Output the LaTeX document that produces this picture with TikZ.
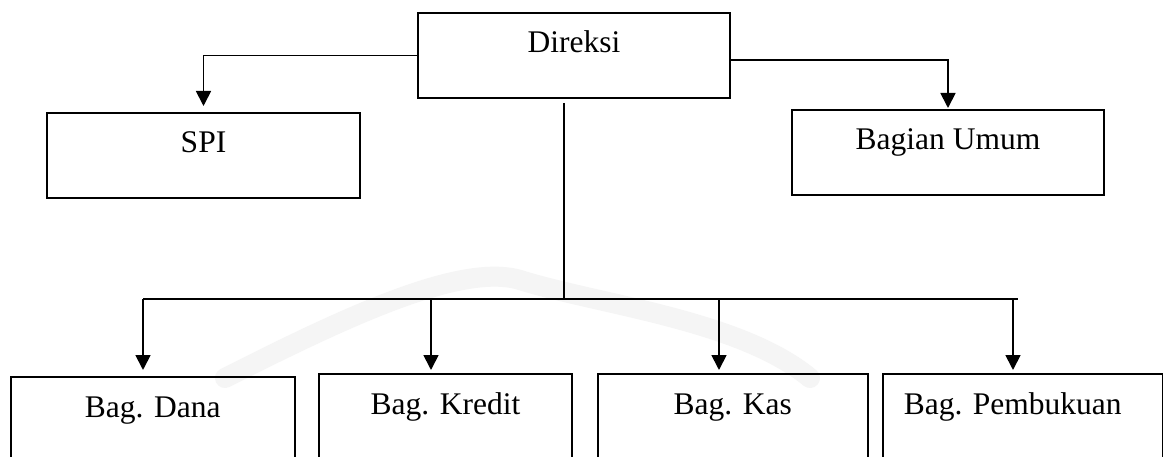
\documentclass[tikz,border=0pt]{standalone}
\usepackage{fontspec}
\setmainfont{Liberation Serif}
\usetikzlibrary{arrows.meta,calc}
\begin{document}
\begin{tikzpicture}[x=1pt,y=-1pt,
  box/.style={draw, line width=2pt, rectangle, inner sep=0pt, anchor=north west},
  lbl/.style={anchor=base, inner sep=0pt, font=\fontsize{31.5}{36}\selectfont},
  link/.style={line width=1.8pt},
  arr/.style={link, -{Triangle[width=15pt,length=15pt]}}]
\clip (0,0) rectangle (1163,457);
\fill[white] (0,0) rectangle (1163,457);
% faint background watermark arc
\draw[black!4, line width=20pt, line cap=round]
  (225,378) .. controls (340,320) and (460,262) .. (520,280)
  .. controls (600,305) and (740,320) .. (810,378);

% boxes
\node[box, minimum width=312pt, minimum height=85pt] (direksi) at (417,12) {};
\node[box, minimum width=313pt, minimum height=85pt] (spi) at (46,112) {};
\node[box, minimum width=312pt, minimum height=85pt] (umum) at (791,109) {};
\node[box, minimum width=283.5pt, minimum height=100pt] (dana) at (10,376) {};
\node[box, minimum width=253pt, minimum height=100pt] (kredit) at (318,373) {};
\node[box, minimum width=270.5pt, minimum height=100pt] (kas) at (596.5,373) {};
\node[box, minimum width=279.5pt, minimum height=100pt] (pemb) at (882,373) {};

% box texts
\node[lbl] (direksi-t) at ($(direksi.north)+(0,41)$) {Direksi};
\node[lbl] (spi-t) at ($(spi.north)+(0,41)$) {SPI};
\node[lbl] (umum-t) at ($(umum.north)+(0,41)$) {Bagian Umum};
\node[lbl] (dana-t) at ($(dana.north)+(0,41)$) {Bag. Dana};
\node[lbl] (kredit-t) at ($(kredit.north)+(0,41)$) {Bag. Kredit};
\node[lbl] (kas-t) at ($(kas.north)+(0,41)$) {Bag. Kas};
\node[lbl] (pemb-t) at ($(pemb.north)+(-10,41)$) {Bag. Pembukuan};

% side connectors
\draw[arr, shorten >=6pt] (direksi.west) -| (spi.north);
\draw[arr, shorten >=1pt] ([yshift=-4.5pt]direksi.east) -| (umum.north);

% trunk and bus
\coordinate (trunk) at ([xshift=-10pt,yshift=-4pt]direksi.south);
\coordinate (d-dana) at (143,299);
\coordinate (d-kredit) at (431,299);
\coordinate (d-kas) at (719,299);
\coordinate (d-pemb) at (1013,299);
\coordinate (bus-r) at (1018,299);
\draw[link] (trunk) -- (trunk |- d-dana);
\draw[link] (d-dana) -- (bus-r);

% drops to departments
\draw[arr, shorten >=6pt] (d-dana) -- (d-dana |- dana.north);
\draw[arr, shorten >=3pt] (d-kredit) -- (d-kredit |- kredit.north);
\draw[arr, shorten >=3pt] (d-kas) -- (d-kas |- kas.north);
\draw[arr, shorten >=3pt] (d-pemb) -- (d-pemb |- pemb.north);
\end{tikzpicture}
\end{document}
